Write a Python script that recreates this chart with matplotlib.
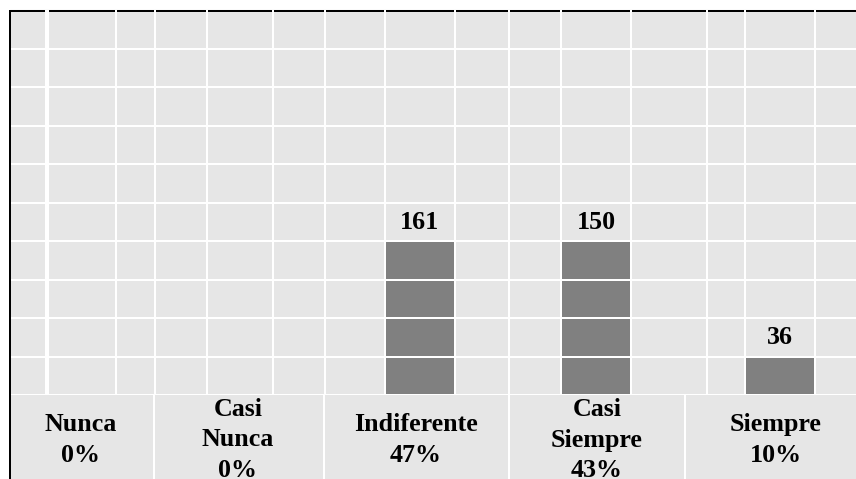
import matplotlib
matplotlib.use('Agg')
import matplotlib.pyplot as plt

# data
categories = ['Nunca', 'Casi\nNunca', 'Indiferente', 'Casi\nSiempre', 'Siempre']
counts = [0, 0, 161, 150, 36]
percents = [0, 0, 47, 43, 10]
bar_rows = [0, 0, 4, 4, 1]   # bar heights as drawn, in grid rows

# layout (pixels of the 856x479 picture)
W, H = 856, 479
top_px, base_px = 10, 395
bar_x = [82, 239, 420, 596, 780]
bar_w = 68
label_x = [81, 238, 416, 597, 776]
vgrid = [46, 48.5, 116, 155, 207, 273, 325, 385, 455, 509, 561, 631, 707, 745, 815]
label_sep = [154.5, 324, 509, 685]
bg = '#e6e6e6'
bar_c = '#808080'
lw = 1.44  # 2 px

plt.rcParams['font.family'] = ['Liberation Serif', 'DejaVu Serif']

fig = plt.figure(figsize=(W / 100, H / 100), dpi=100)

# background in pixel coordinates
bg_ax = fig.add_axes([0, 0, 1, 1])
bg_ax.set_xlim(0, W)
bg_ax.set_ylim(H, 0)
bg_ax.axis('off')
bg_ax.fill_between([10, W], 10, H, color=bg, zorder=0)
bg_ax.plot([9, W], [10.5, 10.5], color='black', lw=lw, solid_capstyle='butt', zorder=5)
bg_ax.plot([10, 10], [10, H], color='black', lw=lw, solid_capstyle='butt', zorder=5)
for x in label_sep:
    bg_ax.plot([x, x], [base_px, H], color='white', lw=lw, zorder=2)
for x, cat, p in zip(label_x, categories, percents):
    bg_ax.text(x, 440, f'{cat}\n{p}%', ha='center', va='center', ma='center',
               fontsize=18.7, fontweight='bold', linespacing=1.42)

# bar area
ax = fig.add_axes([0, (H - base_px) / H, 1, (base_px - top_px) / H])
ax.set_xlim(0, W)
ax.set_ylim(0, 10)
ax.axis('off')
ax.patch.set_alpha(0)
ax.bar(bar_x, bar_rows, width=bar_w, color=bar_c, zorder=1)
for i in range(0, 10):
    ax.axhline(i, xmin=12 / W, xmax=1, color='white', lw=lw, zorder=3)
for x in vgrid:
    ax.plot([x, x], [0, 10], color='white', lw=lw, zorder=3)
for x, h, c in zip(bar_x, bar_rows, counts):
    if c > 0:
        ax.annotate(str(c), (x, h), xytext=(0, 8.8), textcoords='offset points',
                    ha='center', va='baseline', fontsize=18.7, fontweight='bold', zorder=4)

fig.savefig('out.png', dpi=100)
